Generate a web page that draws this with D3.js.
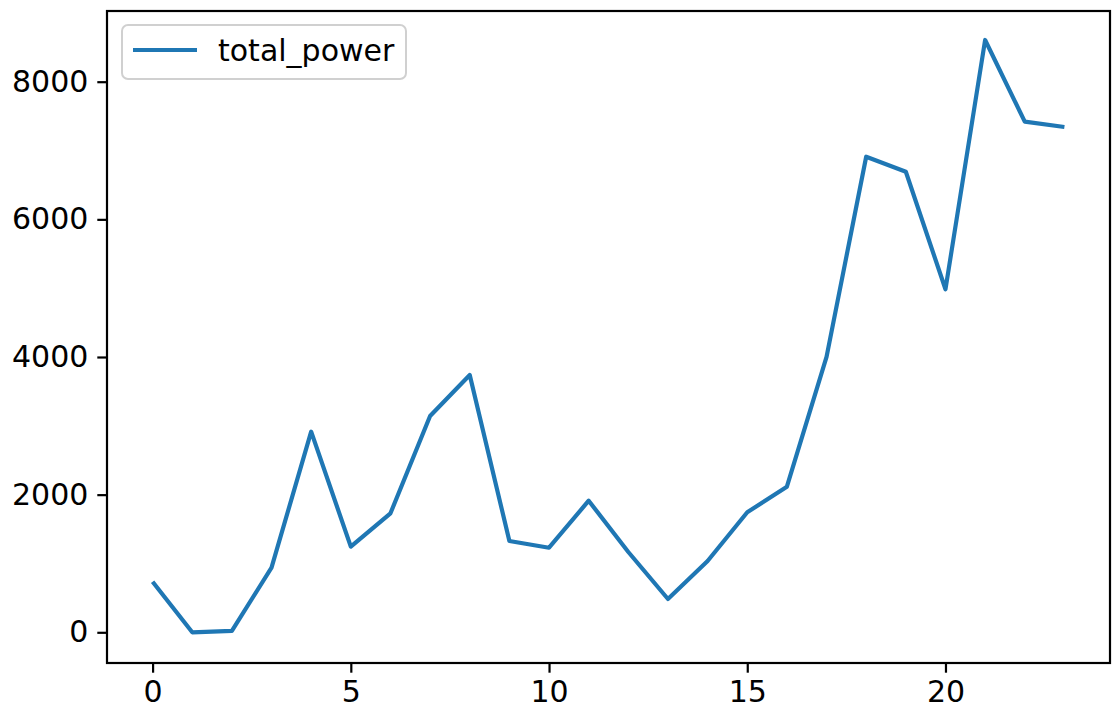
<!DOCTYPE html>
<html>
<head>
<meta charset="utf-8">
<script src="https://cdn.jsdelivr.net/npm/d3@7"></script>
<style>
  body { margin: 0; background: #fff; }
  text { font-family: "DejaVu Sans", sans-serif; }
</style>
</head>
<body>
<svg width="1115" height="713"></svg>
<script>
let hours = d3.range(24)
let totalPower = [735, 0, 20, 940, 2915, 1244, 1729, 3143, 3738, 1326, 1229, 1912,
    1167, 484, 1036, 1744, 2116, 4003, 6910, 6692, 4984, 8606, 7419, 7342]
let xTicks = [0, 5, 10, 15, 20]
let yTicks = [0, 2000, 4000, 6000, 8000]
let seriesName = 'total_power'

let plotLeft = 107, plotRight = 1110, plotTop = 11, plotBottom = 663

let svg = d3.select('svg')

let x = d3.scaleLinear().domain([-1.15, 24.15]).range([plotLeft, plotRight])
let y = d3.scaleLinear().domain([0, 8000]).range([632.3, 81.7])

let xAxis = svg.append('g')
    .attr('transform', `translate(0,${plotBottom})`)
    .call(d3.axisBottom(x).tickValues(xTicks).tickSize(9.7).tickPadding(8).tickFormat(d3.format('d')))
let yAxis = svg.append('g')
    .attr('transform', `translate(${plotLeft},0)`)
    .call(d3.axisLeft(y).tickValues(yTicks).tickSize(9.7).tickPadding(9).tickFormat(d3.format('d')))

for (let ax of [xAxis, yAxis]) {
    ax.select('.domain').remove()
    ax.selectAll('line').attr('stroke', '#000').attr('stroke-width', 2.2)
    ax.selectAll('text').attr('fill', '#000').style('font-size', '30px')
        .style('font-family', '"DejaVu Sans", sans-serif')
}

let line = d3.line()
    .x((d, i) => x(hours[i]))
    .y(d => y(d))

svg.append('path')
    .datum(totalPower)
    .attr('fill', 'none')
    .attr('stroke', '#1f77b4')
    .attr('stroke-width', 4.2)
    .attr('stroke-linejoin', 'round')
    .attr('d', line)

svg.append('rect')
    .attr('x', plotLeft).attr('y', plotTop)
    .attr('width', plotRight - plotLeft).attr('height', plotBottom - plotTop)
    .attr('fill', 'none').attr('stroke', '#000').attr('stroke-width', 2.2)

let legend = svg.append('g').attr('class', 'legend')
legend.append('rect')
    .attr('x', 122).attr('y', 25).attr('width', 284).attr('height', 54)
    .attr('rx', 6).attr('fill', '#fff').attr('fill-opacity', 0.8)
    .attr('stroke', '#d0d0d0').attr('stroke-width', 2)
legend.append('line')
    .attr('x1', 133).attr('x2', 197).attr('y1', 50).attr('y2', 50)
    .attr('stroke', '#1f77b4').attr('stroke-width', 4.2)
legend.append('text')
    .attr('x', 218).attr('y', 61)
    .style('font-size', '30px')
    .text(seriesName)
</script>
</body>
</html>
